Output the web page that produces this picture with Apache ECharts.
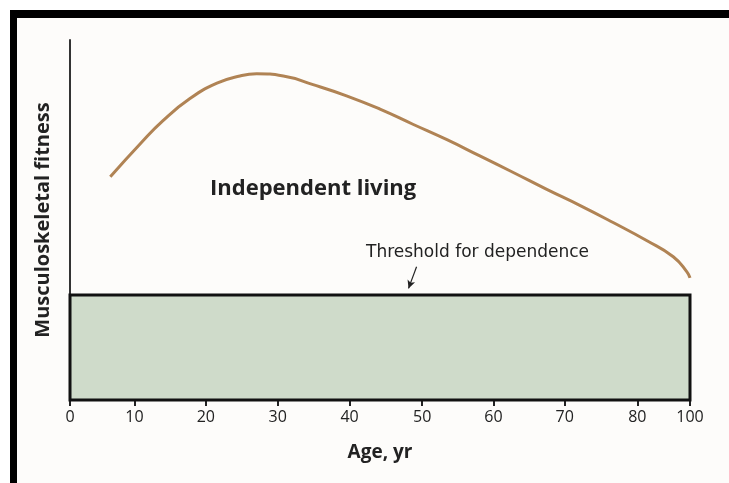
<!DOCTYPE html>
<html>
<head>
<meta charset="utf-8">
<script src="https://cdn.jsdelivr.net/npm/echarts@6/dist/echarts.min.js"></script>
<style>html,body{margin:0;padding:0;background:#fff;}#c{width:729px;height:483px;}</style>
</head>
<body>
<div id="c"></div>
<script>
// Tick labels and their positions on the (illustrative, non-uniform) age axis
var tickLabels = ['0', '10', '20', '30', '40', '50', '60', '70', '80', '100'];
var tickPositions = [0, 10.4, 21.9, 33.5, 45.1, 56.8, 68.3, 79.8, 91.5, 100];

// Musculoskeletal fitness curve (x in axis units, y in fitness units 0-100)
var curveX = [6.5, 11.3, 15.0, 19.4, 23.7, 27.4, 30.1, 34.4, 39.2, 44.6, 50.0, 55.3, 60.8, 66.1, 71.5, 76.9, 82.3, 87.6, 93.0, 97.3, 99.5, 100];
var curveY = [62.0, 71.1, 77.6, 83.8, 88.0, 90.0, 90.6, 90.0, 87.6, 84.5, 80.8, 76.6, 72.3, 67.8, 63.2, 58.5, 54.0, 49.3, 44.3, 39.8, 35.6, 33.9];

// Threshold for dependence (top of disability zone)
var threshold = 29.2;
var xRange = [0, 100];
var yRange = [0, 100];

var curveData = curveX.map(function (x, i) { return [x, curveY[i]]; });

var chart = echarts.init(document.getElementById('c'), null, {renderer: 'canvas'});
chart.setOption({
  animation: false,
  backgroundColor: '#fdfcfa',
  grid: {left: 70, right: 39, top: 40, bottom: 83, containLabel: false},
  xAxis: {
    type: 'value', min: xRange[0], max: xRange[1],
    name: 'Age, yr', nameLocation: 'middle', nameGap: 43,
    nameTextStyle: {fontFamily: 'Open Sans', fontWeight: 'bold', fontSize: 19, color: '#222'},
    axisLine: {show: true, lineStyle: {color: '#222', width: 2}},
    axisTick: {show: true, customValues: tickPositions, length: 6, inside: false, lineStyle: {color: '#222', width: 2}},
    axisLabel: {
      customValues: tickPositions, margin: 9,
      fontFamily: 'Open Sans', fontSize: 16, color: '#222',
      formatter: function (v) {
        var best = 0, d = 1e9;
        for (var i = 0; i < tickPositions.length; i++) {
          var dd = Math.abs(tickPositions[i] - v);
          if (dd < d) { d = dd; best = i; }
        }
        return tickLabels[best];
      }
    },
    splitLine: {show: false}
  },
  yAxis: {
    type: 'value', min: yRange[0], max: yRange[1],
    name: 'Musculoskeletal fitness', nameLocation: 'middle', nameGap: 17, nameRotate: 90,
    nameTextStyle: {fontFamily: 'Open Sans', fontWeight: 'bold', fontSize: 20, color: '#222'},
    axisLine: {show: true, lineStyle: {color: '#333', width: 2}},
    axisTick: {show: false},
    axisLabel: {show: false},
    splitLine: {show: false}
  },
  series: [{
    type: 'line',
    data: curveData,
    smooth: 0.5,
    symbol: 'none',
    lineStyle: {color: '#b08354', width: 3},
    z: 5,
    markArea: {
      silent: true,
      itemStyle: {color: '#cfdbca', borderColor: '#111', borderWidth: 3},
      data: [[{xAxis: xRange[0], yAxis: yRange[0]}, {xAxis: xRange[1], yAxis: threshold}]]
    },
    markLine: {
      silent: true,
      symbol: ['none', 'arrow'],
      symbolSize: [6, 8],
      label: {show: false},
      lineStyle: {color: '#222', width: 1.2, type: 'solid'},
      data: [[{coord: [55.9, 37.0]}, {coord: [54.6, 31.0]}]]
    }
  }],
  graphic: [
    {type: 'rect', shape: {x: 10, y: 10, width: 719, height: 8}, style: {fill: '#000'}},
    {type: 'rect', shape: {x: 10, y: 10, width: 7, height: 473}, style: {fill: '#000'}},
    {type: 'rect', shape: {x: 0, y: 0, width: 729, height: 10}, style: {fill: '#fff'}},
    {type: 'rect', shape: {x: 0, y: 0, width: 10, height: 483}, style: {fill: '#fff'}},
    {type: 'text', left: 210, top: 178, style: {text: 'Independent living', font: 'bold 22px "Open Sans"', fill: '#222'}},
    {type: 'text', left: 262, top: 325, style: {text: 'Disability', font: 'bold 21px "Open Sans"', fill: '#222'}},
    {type: 'text', left: 366, top: 244, style: {text: 'Threshold for dependence', font: '17px "DejaVu Sans"', fill: '#222'}}
  ]
});
</script>
</body>
</html>
